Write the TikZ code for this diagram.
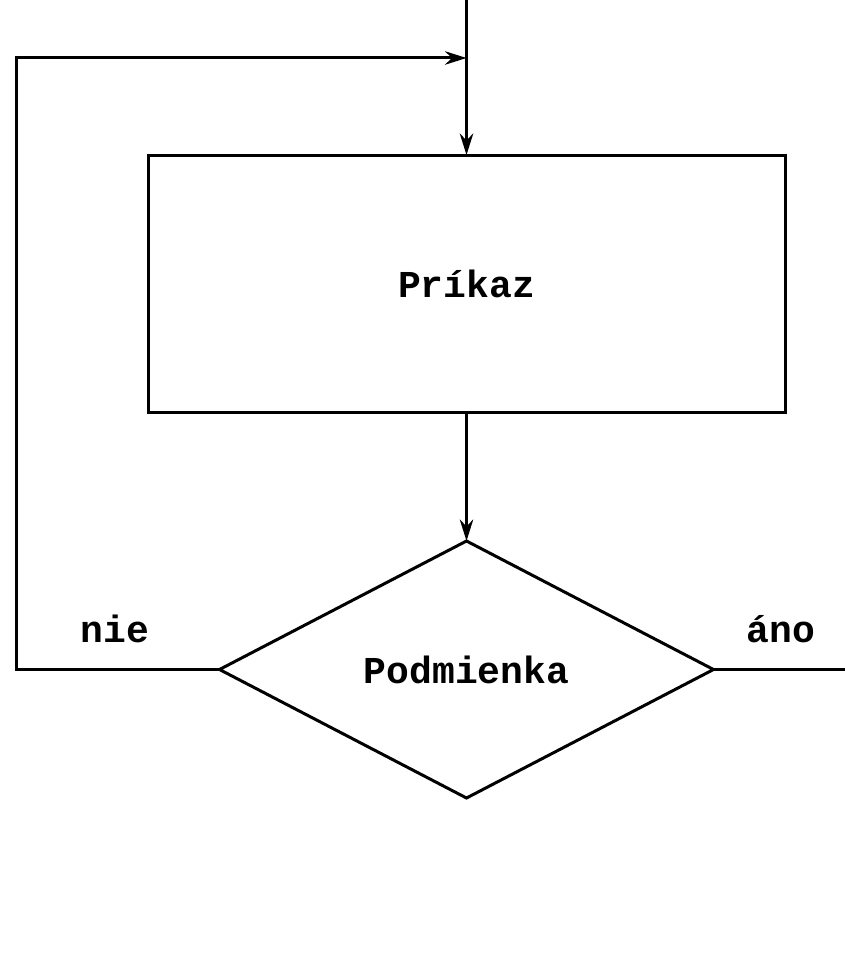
\documentclass[tikz,border=0pt]{standalone}
\usepackage{fontspec}
\setmonofont{Liberation Mono}
\usetikzlibrary{positioning,shapes.geometric,arrows.meta}

\begin{document}
\begin{tikzpicture}[x=0.75pt, y=-0.75pt, line width=2.25pt, >={Stealth[length=16pt,width=10pt,inset=5pt]},
  txt/.style={font=\ttfamily\bfseries\fontsize{28.5}{34}\selectfont},
  prikazbox/.style={draw, rectangle, outer sep=0pt, minimum width=477.75pt, minimum height=192.75pt, txt},
  cond/.style={draw, diamond, inner sep=0pt, outer sep=0pt, minimum width=370.5pt, minimum height=192.75pt, txt}]
\useasboundingbox (0,0) rectangle (845,956);
% Define nodes
\node (prikaz) [prikazbox] at (466.5,283.5) {Príkaz};
\node (podmienka) [cond, below=96.75pt of prikaz] {Podmienka};
\coordinate (vstup) at (466.5,0);
\coordinate (spoj) at (466.5,58);
\coordinate (vlavo) at (16,0);
\coordinate (vystup) at (845,0);

% Draw arrows
\draw[->] (vstup) -- (prikaz.north);
\draw[->] (prikaz) -- (podmienka);
\draw[->] (podmienka.west) -- (vlavo |- podmienka.west) -- (vlavo |- spoj) -- (spoj);
\draw (podmienka.east) -- (vystup |- podmienka.east);
\node[txt] (nie) at (115,629) {nie};
\node[txt] (ano) at (781,629) {áno};
\end{tikzpicture}
\end{document}
